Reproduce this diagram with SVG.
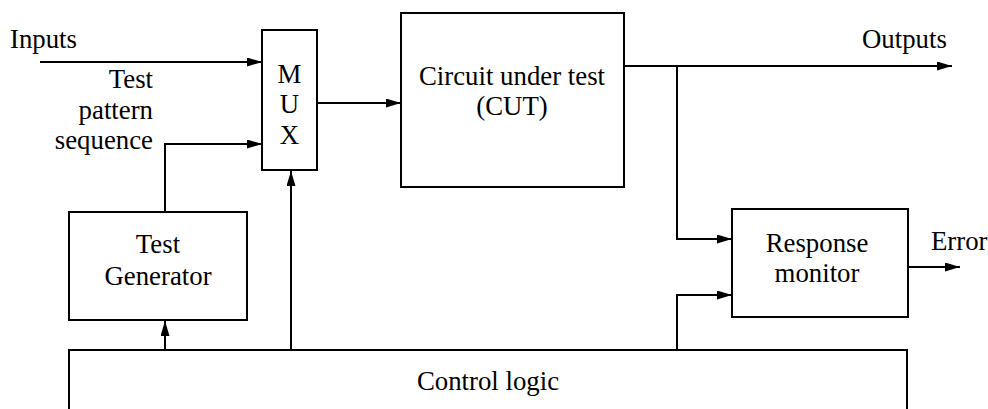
<svg xmlns="http://www.w3.org/2000/svg" width="988" height="409" viewBox="0 0 988 409">
<style>
.box{fill:#fff;stroke:#000;stroke-width:2}
.ln{fill:none;stroke:#000;stroke-width:2}
text{font-family:"Liberation Serif","Times New Roman",serif;font-size:26.8px;fill:#000}
.c{text-anchor:middle}
.r{text-anchor:end}
</style>
<defs>
<marker id="arr" markerUnits="userSpaceOnUse" markerWidth="16" markerHeight="10" refX="15" refY="4.5" orient="auto">
<path d="M0,0 L15,4.5 L0,9 z" fill="#000"/>
</marker>
</defs>
<rect width="988" height="409" fill="#fff"/>
<g id="connectors">
<path class="ln" d="M40,62 H262" marker-end="url(#arr)"/>
<path class="ln" d="M165,212 V144 H262" marker-end="url(#arr)"/>
<path class="ln" d="M317,103 H401" marker-end="url(#arr)"/>
<path class="ln" d="M624,66 H952" marker-end="url(#arr)"/>
<path class="ln" d="M677,66 V239 H732" marker-end="url(#arr)"/>
<path class="ln" d="M908,267 H960" marker-end="url(#arr)"/>
<path class="ln" d="M165,350 V321" marker-end="url(#arr)"/>
<path class="ln" d="M291,350 V171" marker-end="url(#arr)"/>
<path class="ln" d="M677,350 V295 H732" marker-end="url(#arr)"/>
</g>
<g id="labels">
<text x="10" y="48">Inputs</text>
<text class="r" x="153" y="88">Test</text>
<text class="r" x="153" y="119">pattern</text>
<text class="r" x="153" y="149">sequence</text>
<text x="862" y="48">Outputs</text>
<text x="931" y="250">Error</text>
</g>
<g id="mux">
<rect class="box" x="262" y="30" width="55" height="140"/>
<text class="c" x="289.5" y="83">M</text>
<text class="c" x="289.5" y="113">U</text>
<text class="c" x="289.5" y="144">X</text>
</g>
<g id="cut">
<rect class="box" x="401" y="13" width="223" height="174"/>
<text class="c" x="512" y="85">Circuit under test</text>
<text class="c" x="512" y="115">(CUT)</text>
</g>
<g id="test-generator">
<rect class="box" x="69" y="212" width="178" height="108"/>
<text class="c" x="158" y="253">Test</text>
<text class="c" x="158" y="285">Generator</text>
</g>
<g id="response-monitor">
<rect class="box" x="732" y="209" width="176" height="108"/>
<text class="c" x="817" y="252">Response</text>
<text class="c" x="817" y="282">monitor</text>
</g>
<g id="control-logic">
<path class="box" d="M69,410 V350 H907 V410"/>
<text class="c" x="488" y="390">Control logic</text>
</g>
</svg>
